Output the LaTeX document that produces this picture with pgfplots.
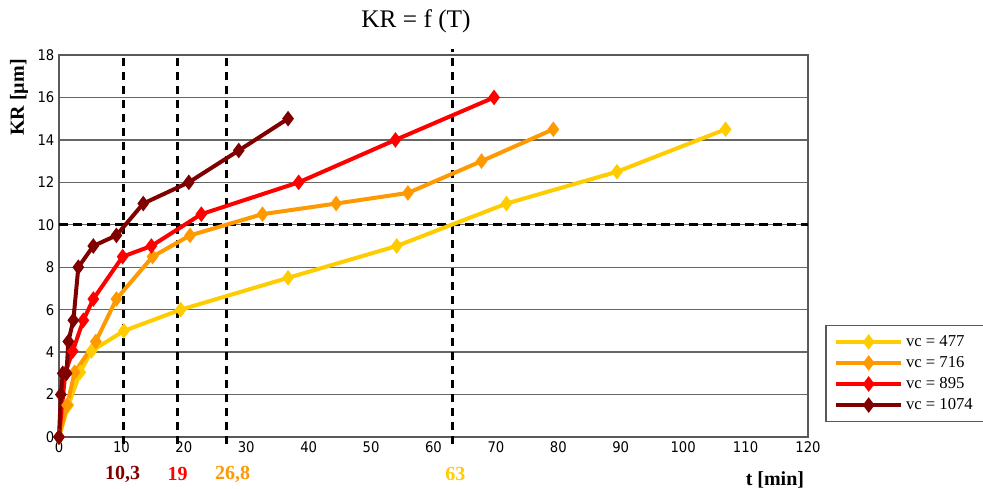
\documentclass[border=0pt]{standalone}
\usepackage{fontspec}
\setmainfont{Liberation Serif}
\newfontfamily\tickfont{DejaVu Sans Condensed}
\usepackage{pgfplots}
\pgfplotsset{compat=1.18}
\definecolor{cY}{HTML}{FFCC00}
\definecolor{cO}{HTML}{FF9900}
\definecolor{cR}{HTML}{FF0000}
\definecolor{cD}{HTML}{800000}
\begin{document}
\begin{tikzpicture}
\path[use as bounding box] (0,0) rectangle (737.25pt,366.75pt);
\begin{axis}[
  at={(44.25pt,39pt)}, anchor=south west,
  scale only axis, width=561.75pt, height=286.5pt,
  xmin=0, xmax=120, ymin=0, ymax=18,
  xtick={0,10,...,120}, ytick={0,2,...,18},
  ymajorgrids, grid style={draw=black!60, line width=1pt},
  axis line style={draw=black!65, line width=1pt},
  tick style={draw=none},
  ticklabel style={font=\tickfont\fontsize{11}{12}\selectfont},
  /pgf/number format/assume math mode=true,
  clip=false,
  every axis plot/.append style={line width=3pt, mark=diamond*, mark size=3.4pt, mark options={solid}},
  legend style={at={(axis cs:122.8,5.28)}, anchor=north west, draw=black!65, line width=0.8pt,
    font=\fontsize{12.5}{13}\selectfont, row sep=2pt, inner xsep=6pt, inner ysep=5.5pt},
  legend cell align=left,
  legend image code/.code={\draw[mark repeat=2,mark phase=2,#1] plot coordinates {(0pt,0pt) (24.5pt,0pt) (49pt,0pt)};},
]
% reference dashed lines
\draw[black, line width=2.2pt, dash pattern=on 6.5pt off 4pt] (axis cs:0,10) -- (axis cs:120,10);
\draw[black, line width=2.2pt, dash pattern=on 6.5pt off 4pt] (axis cs:10.3,-0.35) -- (axis cs:10.3,18);
\draw[black, line width=2.2pt, dash pattern=on 6.5pt off 4pt] (axis cs:19,-0.35) -- (axis cs:19,18);
\draw[black, line width=2.2pt, dash pattern=on 6.5pt off 4pt] (axis cs:26.8,-0.35) -- (axis cs:26.8,18);
\draw[black, line width=2.2pt, dash pattern=on 6.5pt off 4pt] (axis cs:63,-0.35) -- (axis cs:63,18.3);

\addplot[color=cY] coordinates {(0,0) (1.5,1.5) (3.4,3.05) (5.2,4.05) (10.4,5) (19.5,6) (36.7,7.5) (54.1,9) (71.7,11) (89.4,12.5) (106.8,14.5)};
\addlegendentry{\makebox[62pt][l]{vc = 477}}
\addplot[color=cO] coordinates {(0,0) (1.3,1.5) (2.5,3.05) (5.9,4.5) (9.2,6.5) (15.0,8.5) (21.0,9.5) (32.6,10.5) (44.4,11) (55.9,11.5) (67.7,13) (79.2,14.5)};
\addlegendentry{\makebox[62pt][l]{vc = 716}}
\addplot[color=cR] coordinates {(0,0) (1.0,3) (2.2,4.05) (3.9,5.5) (5.5,6.5) (10.2,8.5) (14.8,9) (22.8,10.5) (38.4,12) (53.9,14) (69.7,16)};
\addlegendentry{\makebox[62pt][l]{vc = 895}}
\addplot[color=cD] coordinates {(0,0) (0.3,2) (0.6,3) (1.2,3) (1.5,4.5) (2.3,5.5) (3.1,8) (5.5,9) (9.2,9.5) (13.5,11) (20.8,12) (28.8,13.5) (36.7,15)};
\addlegendentry{\makebox[62pt][l]{vc = 1074}}

\node[font=\fontsize{19}{21}\selectfont] at (axis cs:57.2,19.6) {KR = f (T)};
\node[font=\bfseries\fontsize{15}{17}\selectfont, rotate=90] at (axis cs:-6.4,16.0) {KR [µm]};
\node[font=\bfseries\fontsize{15}{17}\selectfont] at (axis cs:114.7,-2.03) {t [min]};
\node[font=\bfseries\fontsize{15}{17}\selectfont, text=cD] at (axis cs:10.2,-1.74) {10,3};
\node[font=\bfseries\fontsize{15}{17}\selectfont, text=cR] at (axis cs:19,-1.74) {19};
\node[font=\bfseries\fontsize{15}{17}\selectfont, text=cO] at (axis cs:27.8,-1.74) {26,8};
\node[font=\bfseries\fontsize{15}{17}\selectfont, text=cY] at (axis cs:63.5,-1.74) {63};
\end{axis}
\end{tikzpicture}
\end{document}
